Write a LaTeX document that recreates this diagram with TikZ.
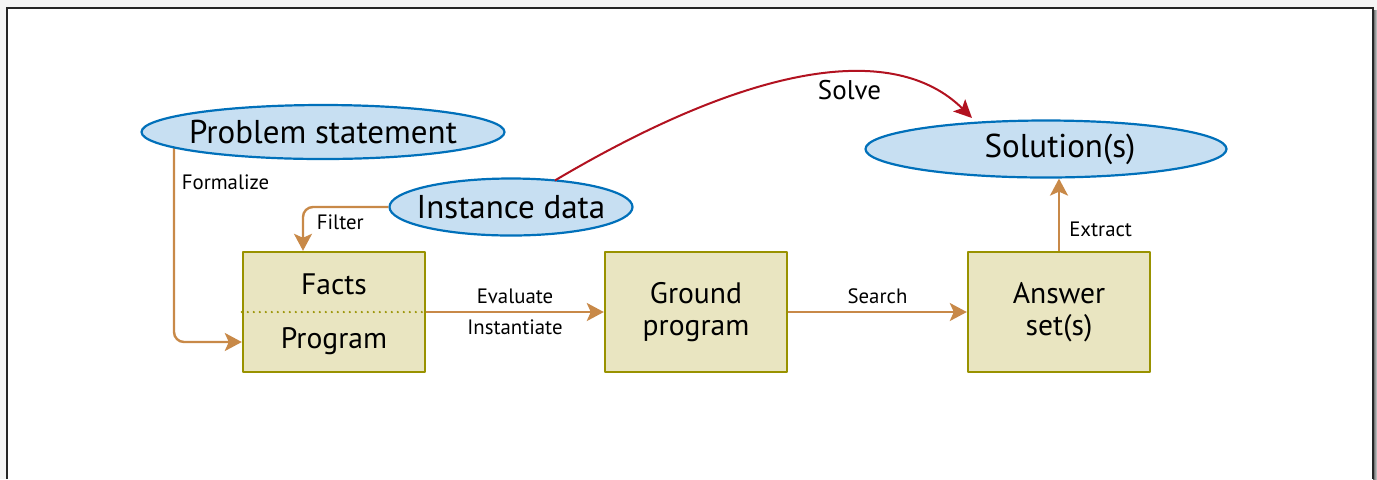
\documentclass[tikz,border=0pt]{standalone}
\usepackage{fontspec}
\setmainfont{PT Sans}
\usetikzlibrary{shapes.geometric,arrows.meta,backgrounds}
\definecolor{flowor}{RGB}{200,137,72}
\definecolor{solvered}{RGB}{178,18,32}
\definecolor{cloudfill}{RGB}{199,223,242}
\definecolor{cloudline}{RGB}{0,112,186}
\definecolor{stagefill}{RGB}{233,229,193}
\definecolor{stageline}{RGB}{153,146,0}
\begin{document}
\begin{tikzpicture}[x=0.5pt,y=-0.5pt,line join=round,
    cloud/.style={ellipse,draw=cloudline,fill=cloudfill,line width=1.1pt,inner xsep=-20pt,inner ysep=-10pt,font=\fontsize{16.5}{19}\selectfont},
    stage/.style={rectangle,draw=stageline,fill=stagefill,line width=1.2pt,minimum width=91pt,minimum height=60pt,inner sep=0pt,align=center,font=\fontsize{14.8}{16}\selectfont},
    flow/.style={draw=flowor,line width=1.2pt,-{Stealth[length=8.5pt,width=9pt,inset=2pt]}},
    lbl/.style={text=black,font=\fontsize{10.4}{12}\selectfont}]
  \useasboundingbox (0,0) rectangle (1377,479);
  % frame with shadow
  \begin{scope}[on background layer]
    \fill[black!4] (0,0) rectangle (1377,479);
    \fill[white] (7,8) rectangle (1373,479);
    \shade[left color=black!65,right color=black!15] (1373,10) rectangle (1377,479);
    \draw[line width=1pt,black!85] (7,479) -- (7,8) -- (1373,8) -- (1373,479);
  \end{scope}
  % ellipses
  \node[cloud,minimum width=181.5pt,minimum height=27pt] (prob) at (323,132) {Problem statement};
  \node[cloud,minimum width=121.5pt,minimum height=28.5pt] (inst) at (511,207) {Instance data};
  \node[cloud,minimum width=180.5pt,minimum height=28.5pt] (sol) at (1046,149) {\hspace*{14pt}Solution(s)};
  % boxes
  \node[stage] (facts) at (334,312) {};
  \node[stage] (ground) at (696,312) {Ground\\program};
  \node[stage] (answer) at (1059,312) {Answer\\set(s)};
  \node[font=\fontsize{14.8}{16}\selectfont] (factstxt) at ([yshift=14pt]facts.center) {Facts};
  \node[font=\fontsize{14.8}{16}\selectfont] (progtxt) at ([yshift=-14.5pt]facts.center) {Program};
  \draw[stageline,line width=1.2pt,dash pattern=on 0pt off 3pt,line cap=round] (facts.west) -- (facts.east);
  % connectors
  \begin{scope}[on background layer]
    \draw[flow,rounded corners=5pt] ([xshift=-74.5pt]prob.center) |- ([yshift=-15pt]facts.west) node[lbl,pos=0.12,right]{Formalize};
  \end{scope}
  \draw[flow,rounded corners=5pt] (inst.west) -| ([xshift=-15.5pt]facts.north) node[lbl,pos=0.67,right,xshift=3pt]{Filter};
  \draw[flow] (facts.east) -- (ground.west) node[lbl,midway,above]{Evaluate} node[lbl,midway,below]{Instantiate};
  \draw[flow] (ground.east) -- (answer.west) node[lbl,midway,above]{Search};
  \draw[flow] (answer.north) -- (answer.north |- sol.south) node[lbl,pos=0.3,right,xshift=1.2pt]{Extract};
  \draw[solvered,line width=1pt,-{Stealth[length=9pt,width=8.5pt,inset=2pt]}] ([xshift=22pt,yshift=13.3pt]inst.center) .. controls (755,62) and (895,42) .. ([xshift=-37pt,yshift=15.5pt]sol.center) node[pos=0.6,below,text=black,font=\fontsize{13.5}{16}\selectfont]{Solve};
\end{tikzpicture}
\end{document}
